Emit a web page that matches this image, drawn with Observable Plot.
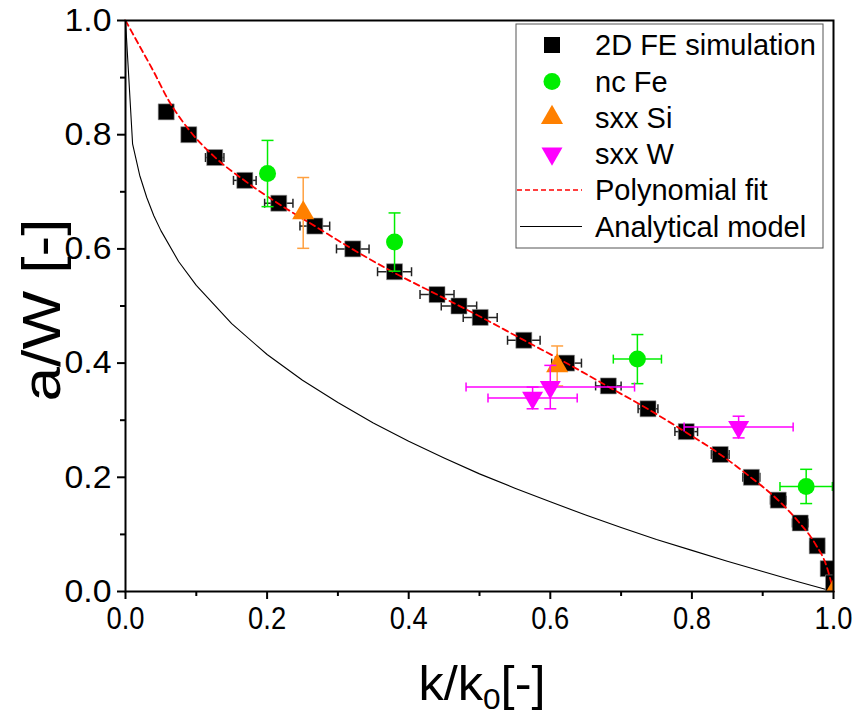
<!DOCTYPE html>
<html><head><meta charset="utf-8">
<script src="https://cdn.jsdelivr.net/npm/d3@7"></script>
<script src="https://cdn.jsdelivr.net/npm/@observablehq/plot@0.6"></script>
<style>
body{margin:0;background:#fff;}
#chart{width:857px;height:718px;}
</style>
</head><body><div id="chart"></div>
<script>
// ---- data ----
const feX = [0.0575,0.0894,0.126,0.1685,0.2165,0.2674,0.321,0.380,0.440,0.471,0.501,0.5626,0.623,0.682,0.738,0.792,0.840,0.884,0.922,0.953,0.977,0.9925,1.0];
const feY = [0.84,0.80,0.76,0.72,0.68,0.64,0.60,0.56,0.52,0.50,0.48,0.44,0.40,0.36,0.32,0.28,0.24,0.20,0.16,0.12,0.08,0.04,0.015];
const feXErr = [0.006,0.006,0.013,0.016,0.02,0.021,0.023,0.024,0.024,0.025,0.024,0.023,0.021,0.018,0.014,0.016,0.0125,0.012,0.011,0.011,0.010,0.006,0.0];

const feX_nc = [0.2006,0.380,0.723,0.9614];
const feY_nc = [0.732,0.612,0.407,0.184];
const yErr_nc = [0.058,0.051,0.043,0.030];
const xErr_nc = [0,0,0.034,0.037];

const siX = [0.251,0.6097,1.0];
const siY = [0.663,0.395,0.0];
const siYErr = [0.062,0.035,0];

const wX = [0.575,0.600,0.866];
const wY = [0.339,0.358,0.288];
const wYErr = [0.019,0.038,0.019];
const wXErr = [0.063,0.119,0.077];

const fitX = [0,0.02,0.04,0.06,0.09,0.125,0.17,0.215,0.27,0.32,0.38,0.44,0.50,0.56,0.62,0.68,0.74,0.79,0.84,0.88,0.92,0.95,0.975,0.99,1.0];
const fitY = [1.0,0.955,0.91,0.862,0.808,0.762,0.718,0.68,0.638,0.60,0.558,0.52,0.482,0.442,0.402,0.36,0.318,0.28,0.24,0.203,0.162,0.123,0.082,0.045,0.0];

const anX = [0,0.01,0.02,0.03,0.04,0.05,0.075,0.1,0.15,0.2,0.25,0.3,0.35,0.4,0.45,0.5,0.55,0.6,0.65,0.7,0.75,0.8,0.85,0.9,0.95,1.0];
const anY = [1.0,0.784,0.729,0.69,0.658,0.632,0.578,0.536,0.469,0.415,0.37,0.331,0.295,0.263,0.234,0.206,0.181,0.157,0.134,0.112,0.091,0.072,0.053,0.035,0.017,0.0];

const xMajor = [0,0.2,0.4,0.6,0.8,1.0];
const xMinor = [0.1,0.3,0.5,0.7,0.9];
const yMajor = [0,0.2,0.4,0.6,0.8,1.0];
const yMinor = [0.1,0.3,0.5,0.7,0.9];

const legendLabels = ["2D FE simulation","nc Fe","sxx Si","sxx W","Polynomial fit","Analytical model"];

// ---- tables ----
const fe = feX.map((x,i)=>({x, y:feY[i], e:feXErr[i]}));
const nc = feX_nc.map((x,i)=>({x, y:feY_nc[i], ey:yErr_nc[i], ex:xErr_nc[i]}));
const si = siX.map((x,i)=>({x, y:siY[i], ey:siYErr[i]}));
const w = wX.map((x,i)=>({x, y:wY[i], ey:wYErr[i], ex:wXErr[i]}));
const fit = fitX.map((x,i)=>({x, y:fitY[i]}));
const an = anX.map((x,i)=>({x, y:anY[i]}));

const capV = {draw(ctx){ ctx.moveTo(0,-4.5); ctx.lineTo(0,4.5); }};
const capH = {draw(ctx){ ctx.moveTo(-6,0); ctx.lineTo(6,0); }};

const GREEN = "#00ee00", ORANGE = "#ff8000", ORANGE_E = "#ffa040", MAG = "#ff00ff", BAR = "#222";

function hbars(data, color, ex){
  const d = data.filter(r => ex(r) > 0);
  return [
    Plot.link(d, {x1: r=>r.x-ex(r), x2: r=>r.x+ex(r), y1:"y", y2:"y", stroke: color, strokeWidth: 1.5}),
    Plot.dot(d, {x: r=>r.x-ex(r), y:"y", symbol: capV, stroke: color, fill:"none", strokeWidth:1.5}),
    Plot.dot(d, {x: r=>r.x+ex(r), y:"y", symbol: capV, stroke: color, fill:"none", strokeWidth:1.5})
  ];
}
function vbars(data, color){
  const d = data.filter(r => r.ey > 0);
  return [
    Plot.link(d, {x1:"x", x2:"x", y1: r=>r.y-r.ey, y2: r=>r.y+r.ey, stroke: color, strokeWidth: 1.5}),
    Plot.dot(d, {x:"x", y: r=>r.y-r.ey, symbol: capH, stroke: color, fill:"none", strokeWidth:1.5}),
    Plot.dot(d, {x:"x", y: r=>r.y+r.ey, symbol: capH, stroke: color, fill:"none", strokeWidth:1.5})
  ];
}

const svg = Plot.plot({
  width: 857, height: 718,
  marginLeft: 125, marginRight: 24, marginTop: 20, marginBottom: 127,
  style: {fontFamily: "'Liberation Sans', Arial, sans-serif", background: "#fff", overflow: "visible"},
  x: {domain: [0,1]},
  y: {domain: [0,1]},
  marks: [
    Plot.line(an, {x:"x", y:"y", stroke:"#000", strokeWidth:1.1}),
    ...hbars(fe, BAR, r=>r.e),
    Plot.dot(fe, {x:"x", y:"y", symbol:"square", r:9.03, fill:"#000", stroke:"#999", strokeWidth:0.6, clip:true}),
    Plot.line(fit, {x:"x", y:"y", curve:"monotone-x", stroke:"#ff0000", strokeWidth:1.8, strokeDasharray:"6,4"}),
    ...vbars(nc, GREEN),
    ...hbars(nc, GREEN, r=>r.ex),
    Plot.dot(nc, {x:"x", y:"y", r:8.5, fill:GREEN}),
    ...vbars(si, ORANGE_E),
    Plot.dot(si, {x:"x", y:"y", symbol:"triangle", r:8.2, fill:ORANGE, clip:true}),
    ...vbars(w, MAG),
    ...hbars(w, MAG, r=>r.ex),
    Plot.dot(w, {x:"x", y:"y", symbol:"triangle", r:7.8, rotate:180, fill:MAG}),
    Plot.frame({stroke:"#000", strokeWidth:2}),
    Plot.axisX({ticks: xMajor, tickFormat: d3.format(".1f"), tickSize: 8, tickPadding: 7, fontSize: 31, strokeWidth: 2, label: null, ariaLabel: "xmajor"}),
    Plot.axisX({ticks: xMinor, tickFormat: () => "", tickSize: 5, strokeWidth: 2, label: null}),
    Plot.axisY({ticks: yMajor, tickFormat: d3.format(".1f"), tickSize: 8, tickPadding: 6, fontSize: 32, strokeWidth: 2, label: null, ariaLabel: "ymajor"}),
    Plot.axisY({ticks: yMinor, tickFormat: () => "", tickSize: 5, strokeWidth: 2, label: null})
  ]
});

const s = d3.select(svg);
// narrow x tick labels, slightly wide y tick labels as in the reference
s.selectAll('g[aria-label="xmajor tick label"] text').attr("textLength", 38).attr("lengthAdjust","spacingAndGlyphs");
s.selectAll('g[aria-label="ymajor tick label"] text').attr("textLength", 47).attr("lengthAdjust","spacingAndGlyphs");

// axis titles
s.append("text").attr("transform","translate(60,310) rotate(-90) scale(1.15,1)").attr("text-anchor","middle")
  .attr("font-size",54).attr("fill","#000").text("a/W [-]");
const xt = s.append("text").attr("x",482).attr("y",700).attr("text-anchor","middle").attr("font-size",48).attr("fill","#000")
  .attr("textLength",127).attr("lengthAdjust","spacingAndGlyphs");
xt.append("tspan").text("k/k");
xt.append("tspan").attr("font-size",30).attr("dy",9).text("0");
xt.append("tspan").attr("dy",-9).text("[-]");

// legend
const lg = s.append("g").attr("text-anchor","start");
lg.append("rect").attr("x",516).attr("y",24).attr("width",307).attr("height",224)
  .attr("fill","#fff").attr("stroke","#555").attr("stroke-width",1);
const rowY = [45,81.5,117.5,153.5,190,226.5];
const sym = (type,size)=>d3.symbol().type(type).size(size)();
lg.append("path").attr("d", sym(d3.symbolSquare, 16*16)).attr("transform",`translate(552,${rowY[0]})`).attr("fill","#000");
lg.append("path").attr("d", sym(d3.symbolCircle, Math.PI*8.5*8.5)).attr("transform",`translate(552,${rowY[1]})`).attr("fill",GREEN);
lg.append("path").attr("d", sym(d3.symbolTriangle, Math.PI*8.2*8.2)).attr("transform",`translate(552,${rowY[2]})`).attr("fill",ORANGE);
lg.append("path").attr("d", sym(d3.symbolTriangle, Math.PI*7.8*7.8)).attr("transform",`translate(552,${rowY[3]}) rotate(180)`).attr("fill",MAG);
lg.append("line").attr("x1",517).attr("x2",582).attr("y1",rowY[4]).attr("y2",rowY[4]).attr("stroke","#ff0000").attr("stroke-width",1.5).attr("stroke-dasharray","5,3");
lg.append("line").attr("x1",520).attr("x2",582).attr("y1",rowY[5]).attr("y2",rowY[5]).attr("stroke","#000").attr("stroke-width",1.1);
legendLabels.forEach((t,i)=>{
  lg.append("text").attr("x",595).attr("y",rowY[i]).attr("dy","0.36em").attr("font-size",29).attr("fill","#000").attr("text-anchor","start").text(t);
});

document.getElementById("chart").appendChild(svg);
</script>
</body></html>
